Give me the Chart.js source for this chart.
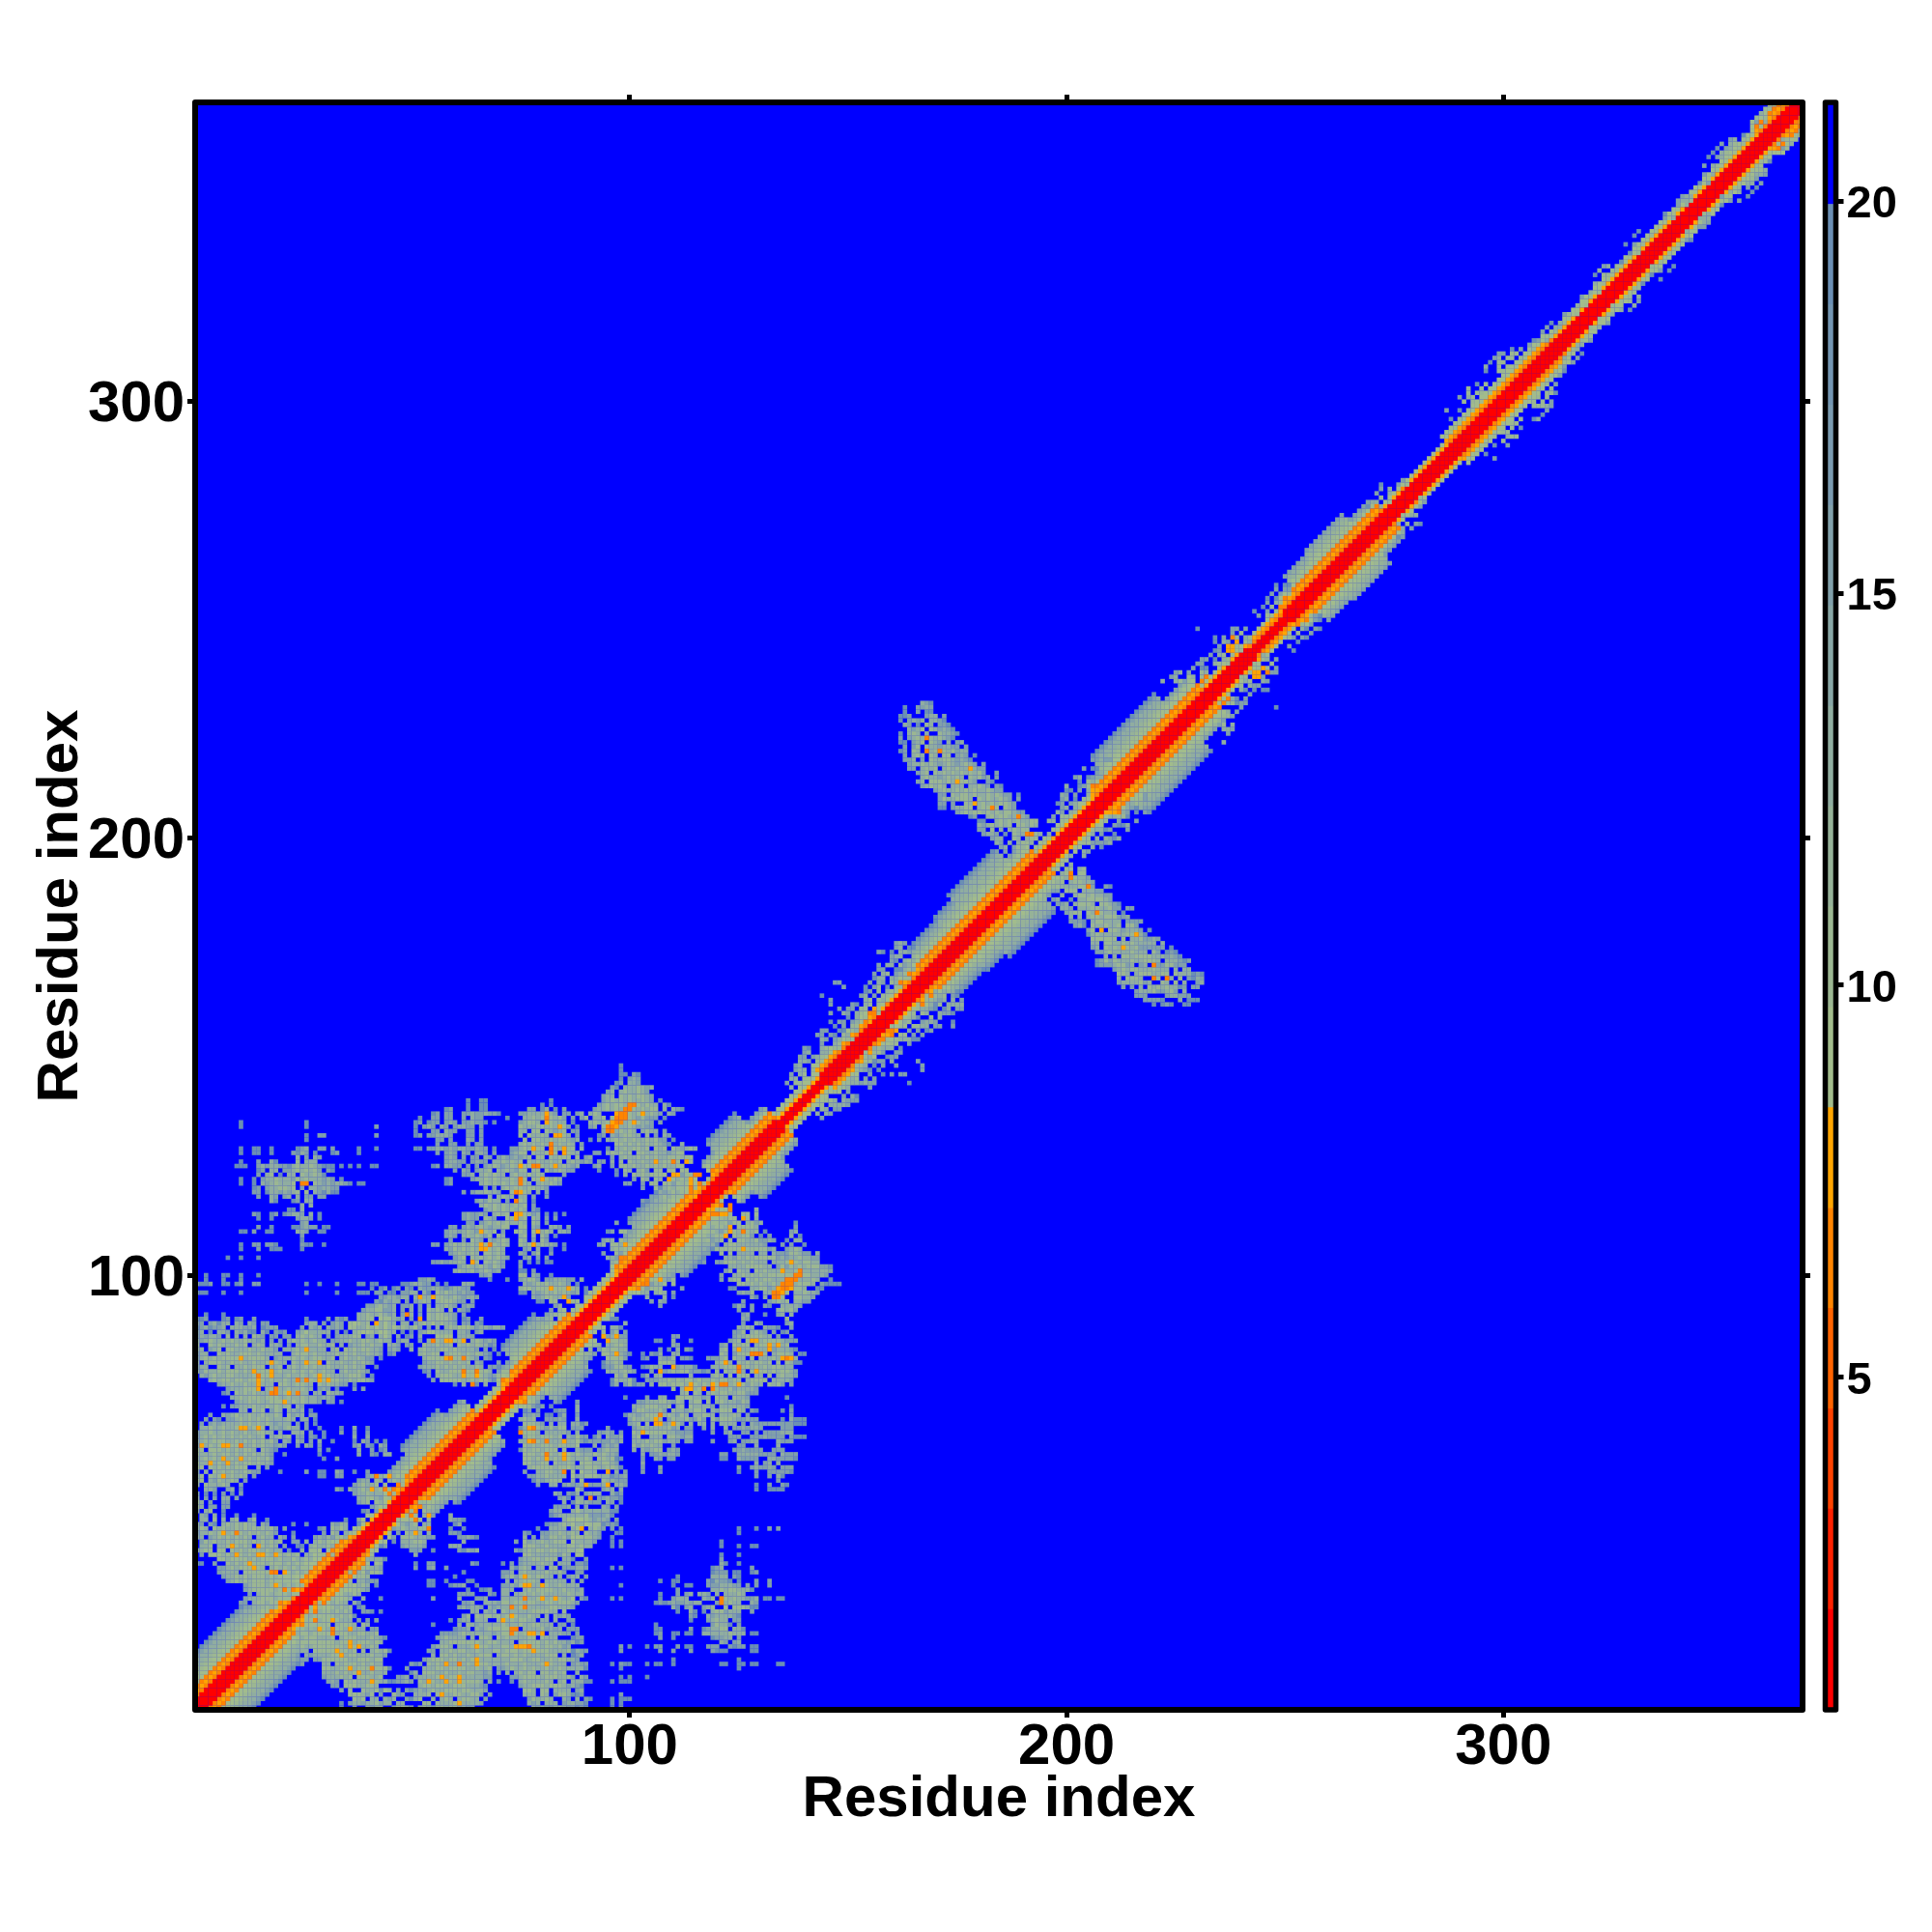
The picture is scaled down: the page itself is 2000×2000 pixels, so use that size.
<!DOCTYPE html>
<html>
<head>
<meta charset="utf-8">
<title>Residue distance map</title>
<script src="https://cdn.jsdelivr.net/npm/chart.js@4/dist/chart.umd.js"></script>
<style>
html, body { margin: 0; background: #fff; }
canvas { position: absolute; left: 0; top: 0; }
</style>
</head>
<body>
<canvas id="mapChart" width="2000" height="2000"></canvas>
<canvas id="keyChart" width="2000" height="2000"></canvas>
<script>
// Axis ticks
const residueTicks = [100, 200, 300];
const keyTicks = [5, 10, 15, 20];
const residueMin = 0.5;
const residueMax = 368.5;

// Colour key: distance band edges and the colour of each band
const bandEdges = [0.76, 2.04, 3.32, 4.6, 5.88, 7.16, 8.44, 9.72, 11, 12.28, 13.56, 14.84, 16.12, 17.4, 18.68, 19.96, 21.26];
const bandColors = ['#ff0000', '#ff2100', '#ff4200', '#ff6300', '#ff8400', '#ffa500',
    '#a2bc8c', '#9cb792', '#96b298', '#90ada0', '#88a6a5', '#81a0aa', '#7a9aaf', '#7395b1', '#6b8fb4', '#0000ff'];

// Letter used for a cell in the tables below and the distance it stands for
const cellCodes = ['R', 'a', 'r', 'b', 'd', 'o', 'g', 'c', 'n', 'e', 'm', 'h', 't', 'i', 's'];
const cellDistances = [1.4, 2.7, 4, 5.2, 6.5, 7.8, 9.1, 10.4, 11.6, 12.9, 12.9, 15.5, 15.5, 18, 19.3];

// Stretches along the diagonal: profile[k] is the distance code at |x - y| = k
const stretchEnd = [18, 20, 22, 25, 38, 46, 49, 53, 62, 66, 72, 76, 84, 88, 98, 101, 105, 113, 118, 120, 123, 130, 134, 144, 157, 163, 168, 175, 179, 190, 194, 207, 211, 226, 232, 242, 250, 254, 259, 268, 273, 288, 312, 359, 368];
const stretchProfile = [
    'RRRdodggcnemts', 'RRRdodggnmt', 'RRRdodgmt', 'RRRdogggnmt', 'RRRdodgggn', 'RRRogg',
    'RRRdodgt', 'RRRdodggnmt', 'RRRdodggcnemts', 'RRRdodggnmt', 'RRRogg',
    'RRRdodgmt', 'RRRdodggcnemts', 'RRRdodggnmt', 'RRRogg',
    'RRRdodgt', 'RRRdodggnmt', 'RRRdodggcnemts', 'RRRdodggcnmt', 'RRRdg',
    'RRRdodggnt', 'RRRdodggcnemts', 'RRRdodgmt', 'RRogg', 'RRRdogg', 'RRRogg',
    'RRRdodgmt', 'RRRdodggnmts', 'RRRdodggcnmts', 'RRRdodggcnnemts', 'RRRdodggnt', 'RRRogg',
    'RRRdodgmt', 'RRRdodggcnemts', 'RRRdodggnt', 'RRRog', 'RRdog',
    'RRRdodgt', 'RRRdodggnmt', 'RRRdodggcnmt', 'RRRdodgmt', 'RRRog', 'RRRdogg', 'RRRogg', 'RRRdodgg'
];

// Off-diagonal cells, x < y only (the map is symmetric): 'y x:codes x:codes ...', a dot is a blue cell
const farRowsA = [
    '135 11:s 26:s', '134 11:s 26:s 42:t', '132 26:s 29:tt 42:t', '131 26:s',
    '129 11:s 14:ss 18:s 24:stm 29:tt 32:t 38:s 42:s', '128 11:s 14:ss 18:s 23:tsmt.s 32:st 38:s',
    '127 24:m.t.mt', '126 11:s 15:t 18:ms 23:.c.mmm', '125 10:sss 15:tmtmmttsmcmmcmtsss 34:s 36:s 38:s 41:ss',
    '124 15:st.mm.ttmcmcmct.ts', '123 15:t.mc.s.mm.cmmcms', '122 11:s 14:s.tmmcmmmtcmcmmmtmt.s',
    '121 11:s 14:s.mtmcmmmc.dd.cmtmtmmts.ss 38:s', '120 14:st.tmmccmc.t.mmtmmtt', '119 14:tt.smmtmtmc.c.mtsmss',
    '118 15:t..mt.tm.m.tt.tt', '117 18:ms 23:st.mm', '116 25:m.m', '115 22:ss.m', '114 14:ts..st.stmmt.m.s', '113 15:s..s 24:tmmt.s',
    '112 25:tm', '111 15:t..s 23:sstmtt.ss', '110 11:ss.t..ss 24:mmt..ss', '109 25:t', '108 25:s',
    '107 11:s 14:tt.tts 25:tss..s', '106 11:s 15:t..sss 25:s', '104 8:s..s...s', '100 3:s...ss..s...s 65:mttm',
    '99 3:s...s...s 52:ttmt 63:s 68:s 72:s', '98 1:tsst..ss.st..tt 26:s..s...s 38:ss.ss 48:sstmmtt.s.s..tmmt',
    '97 41:s.st.st.ts.mttmmtstmmtt', '96 1:sss...s...s 26:s 33:s 38:sss.tt.ss.ttmm.ms.cmcmmtmtt',
    '95 43:ttmmtmm.mc 52:o 53:mm 55:o 56:ccmmcmtmmt', '94 42:tsmtmm.t.tm 53:cm.mcccmtt.t', '93 40:ttmcmtm.tt 50:m.t 54:m.mmcmt.tmt',
    '92 39:tmmccttm.t 49:.m 52:t.cmcmcccmts', '91 3:s...s 38:mmcmmcmtm. 48:t 49:d 50:m.t.cmccmmt.t',
    '90 1:sst...st.st..t 26:s 31:t.tst 38:mmcc.gccmtm.t.o.cm 55:.cccmt.st 66:t',
    '89 1:tt.tmsmm.mt.mt.tt 26:tmm.t.tmt.cgcmc 42:o 43:mgmm.mm.t 51:.mcmgmcmmt.tt.ts',
    '88 1:stmsttm.mmmttm.st 18:tt 25:tmmtm.mtmt.gcmmgmgmgmgmcmmgt.t.m.mcmgggmtmmtmmt',
    '87 1:tm.s.mmt.mtmss.ms.t 20:st 24:tmgmmmmm.t.s.mcggcmggmm.s.s.tmggmmmm.mmt.tm',
    '86 1:tmtmmt.cmmcmmcmt.tt 21:tt.mcmcmm.t.tmmmcc.tmcmgm.mt 49:st.mt.mgcgg.mmmt',
    '85 1:mtmcmmcmcmmcmmtm.t.t.mcmcmmcmm.ttmmcmmccmmcmm.tmm 52:t.m.cm.mccm.mcmtmt 55:d 58:oo 62:o',
    '84 1:cm.cmcmmmcmcmmcm.mmt.t.mccmmcmmcmm.tmmcmcmmcmmt.tm.m 50:t.ccmmcmmcmcmcmcmmst',
    '83 1:mm.tmcmccmmmcmmcmmt.mmmcmcmmmm.mcmcmcmccmmt.tmt 50:m.mcmmmccmcmmmmt.t.s 26:o',
    '82 1:tmm.mcmcmmcccmcmmmmmt.mcccmcmmmmcmcmcmmcmmt.st 52:mcmcc.mcccmcmcmts.s',
    '81 1:tmcmcmcccccmccccmmtmmmcmcmmccmmcmmcmmcmtt.s 53:mcccc.ccc.cmt.ts 11:o 58:o 59:d 62:d',
    '80 1:m.mcccmmcmcmmcmmc.cmmmcmm.ccc.cmmcmmcmcmt 53:tmmccmcmcmcmmt.t.t 18:o 26:o 29:o',
    '79 1:tmm.mcmcmmmcmcccmmmccmcmmcmcmmcmmmcmcmmm.s 52:tmmmcmcmcmcmmcm.tts',
    '78 1:mtcmmcmcccmcmmccccmcmmcmcmcmmcmmcmcmmcmt 53:st.cmmcccccc.ccmt.cc 14:o 18:o 62:d 65:d',
    '77 2:mtmcmmccmmmmccccmmmmcmmcmmccccmmmmccct.s 54:t.mcccmmcccccmt.c.c 15:d 18:o 29:o 62:o 65:o',
    '76 4:mcmccmccmccocmcmmcmmmmdcmccoccmmcmccmt 55:t.cccccmmcmccts 15:o 24:d 29:o',
    '75 6:tmmcmmcmmcmmm.ccmmccmm.cmcmmtt.s 60:s.m.ds.m 15:o'
];
const farRowsB = [
    '140 63:s 66:ss', '139 63:s 66:ss', '138 58:st 63:s 66:ss', '137 55:st 58:tt 62:ttmttmtts',
    '136 52:s 55:tt.tt 62:t.mtt 72:s', '135 51:st 54:stt.tmt.ttmtts.s', '134 51:s.tmt.mt.tmmtt.t', '133 51:s 54:.tt.mtt 63:tt.t',
    '132 51:st.ttmmmt 63:tt.t', '131 56:tt.t 63:mt.t', '130 56:t..tt 63:t.tt', '129 51:ss.ttmmtmtmmttmtt.s 73:tts',
    '128 56:t.tmt.mt.mmt.t 73:tmm', '127 58:tmt.t.tt.mt.tmttmt', '126 58:tmmtt.tmtt.mmcmcmt', '125 55:st.mmtt.t.t.tmcmtmcmt',
    '124 60:t.mt.tmmcmmmcmt', '123 62:ttm.mcmcmmcmcmm', '122 58:st 64:tmmcmcmmmcmmt', '121 58:st 66:mcmcmcmcmm', '120 67:tmt.mcmccm',
    '119 62:t.tmmcmmt..c 74:d', '118 68:mcmcmm.c', '117 65:tmtcmm.t.c 74:d', '116 66:mcmcmcmmcm', '115 67:tmcmcmcmt',
    '114 62:tmttmt.mcmc 74:o', '113 62:tmtt.cmt..cc 74:o', '112 63:tt.tmcmcmcmmt', '111 59:tt.tmtmcmtmmcc',
    '110 58:tmmtmcmtocmcmt..cm', '109 58:tmt.mcmcmtcmcm', '108 59:t..tmcmt.mtmcm', '107 55:tt.tmcmcmcmocdcmcm', '106 58:mtcmcmcmoocmcm',
    '105 59:tmcmmcm.ccmcm', '104 60:tmc.cmcmcmcmt', '103 55:ttmtmmcm.ocmcmcmt', '102 61:tmcmmcmtcmt', '101 60:mcmmctmcmtm'
];
const farRowsC = [
    '74 8:tmmmcccc.mccmmcmmcmm.tmt.s 37:t.t 15:o 19:d', '73 7:st.cmcmcmmmcmmccmcmm.mm.cmmt 18:dd 22:o 24:d',
    '72 9:mmcmcccmcccmmcmmcmmmtmmt', '71 10:tmmcmcmmcccomcmcmmmt.tt.s', '70 7:s.ttmmmcmmcmcmmc.mt', '69 11:mmccmcmtcmmmmtm.s',
    '68 4:t..mtmcmmcmmcmmcm.ctmm.tt', '67 3:t.ts.ttmcmcmcmcmmmmcm.mm.s', '66 2:t.tmtmmmmcmcmcmcmtmmm.t.t.s',
    '65 1:.mmcmmcmmccmmcmc.mmtmcmm.t..s 11:oo 15:o 34:s 37:m 40:s', '64 1:tmmcmmcmcmmcmmccmm.m..mmm.t..s 34:t 37:t 40:t',
    '63 1:tmcmcmcmcmcmcmmccmmcmc.tt.ts.s 37:m 40:m', '62 1:mmcmcccmmcmcmcmcmct.mt.mt.t.m..s 37:s.mt.s.s',
    '61 1:tmmcmcmccccmmcmcmmtmt..t.mt.t 37:tm.ts.mt 2:o 7:o 8:o 11:d', '60 1:cc.cccmcmcmccm.cmts 29:t.s 38:m..t.st',
    '59 1:cmmmcmccmcmcmcmcmt..s 29:s 38:m..ts.mm', '58 1:mmcmcmcmcmcmcmcmct 30:s 33:t 7:o 11:o', '57 1:cmmomcmomcmccmcmmt',
    '56 1:cc.cmcmcmcccc.m.t', '55 1:t.m.cmcmcmmcmtt 20:s 26:t 29:ss 33:mt 37:s 40:t', '54 1:mc.cmcomcmcm.t 29:ss 33:tt 40:tm 42:d 43:mc 45:o 46:m',
    '53 1:cc.mtcmmcm.t 38:tmm.cm.mcmc', '52 1:m.cmmmcm..t 36:.tmcmmcmc.m.c', '51 2:cmmtt.tm.s 33:ts.mtmcmomcdc',
    '50 1:t.s.s.t.s.t 37:tmmcmmm.dc', '49 1:m.t.t.mm.t 38:mmccmt.c', '48 1:cm.t..tt 38:tmc.cm', '47 1:cm.tt.tt 41:tm.c', '46 1:t.mc..s 39:st.t',
    '45 2:mt.m.s..s...s', '44 2:mm.c.m.mc..tc..s 35:s..t', '43 1:mt.ts.mcmcmcmm.mt 23:s..s 32:mt.m..s', '42 1:mcmmcmcmmcmcmcmcmct.t 29:st.cm.mt',
    '41 1:tmmcmcomcdcmcmcmcmt...s 30:t.cmcmc', '40 1:mm.tmcmcmcmcmcmcmm.mt.t 28:tmt.tc.m', '39 2:tcmcmmcmcccmcmcmcmc..tt.m.mcmc',
    '38 2:mmc.mmcocmcm.ocmcm.t..ss.mcmmcm', '37 1:tmcc.cc.cmcmcccmcmmm.s.tm.cc', '36 2:t.cccmcmocmcmoocmocmcmc.mm.cc.c',
    '35 6:ccmccccmcmcccmcmmcmmcm', '34 1:ss..t.ccmcmcocccmcccmcmc', '33 6:ttmcmcccocmcmcmcmcmcc', '32 6:tmmmmcccccccddcocmcmc', '31 7:tmmcmcmcccmcmcccc',
    '30 8:tmcmcmcccmcccccc', '29 12:tmcccmcocmcmcc', '28 12:tmcccccmcdcd', '27 13:tmmccm.ccmcc', '26 12:tmmmcccmccc', '25 11:tt.mccmcc', '24 13:tmm.cmc'
];
const farRowsD = [
    '148 98:s', '147 98:s', '146 98:ss.ts', '145 98:s.tmt', '144 97:st.mmtm', '143 96:ts.mmmcmtm', '142 95:tm.mcmmcmt',
    '141 94:tmm.cmcmccmt', '140 82:s 94:tmcmcmcmmcmt.s', '139 80:s.s 93:tmcmccmcm 100:dd 102:cmcmm.ms',
    '138 77:tt.sm.s.t 92:tmmcmcmc 99:dd 101:cmcmcc.m.mts', '137 75:ttmmmmomt.tt.tm.mcm 97:odd 100:cmcomcmt.mt',
    '136 75:.mmcmcdcmct 87:t.tc.mmc.cdddcmtcttt.s', '135 75:tmccmdocmmm.s 91:mcmmcmmcmcocmmt.t 96:odd', '134 75:cmmmccmcmoct 88:s 91:tm.cmcmmmcmtmtt 95:ddo',
    '133 75:mm.cc.cmtmc.tt 93:tmmcmcmcmcmcmm.t 95:dd', '132 75:c.cmmcm.oocm.t 93:st.mtmccmm.cmt.mt', '131 76:cmccmmcmccmtm 91:s.t.mmcmcmcmmcmctt.s',
    '130 75:mcmcmcmdmcmcm.t 95:t.ccmcmcmcmcmts..m', '129 75:mcmocc.dcmocc.m 95:s.mmcmccmcmcmcmcmtmcm', '128 75:cc.cmmcdcmocmm 92:tt.mcmcmcmccmmcmmtmcc',
    '127 76:mc.cc.cmccc.c 90:tm 96:t.mcmmcmcmcmmcccmcc', '126 75:c.cmcmmcmccmcmtm 90:mt.tt.m.c.cmmcmmomccdc.oc', '125 75:occddcmcomcmtm 92:tm..t.ccmcmmcmcmcmmcc',
    '124 75:cc.cc.ctmcmtt 93:s...s.cmmmct.cc.cc.cc', '123 76:mcmcm.m..t 97:s.m.cmcmcccc.oo.c.dd', '122 75:dc.ccocmcm 101:t.cm.cm.ocmc.o',
    '121 75:dcmcmcmcmt 99:tt..t.cc.cc.c.co', '120 75:cmccmmt 103:t..c.mc.cc.dc', '119 75:ocm.m.t 107:mt.cmc.do', '118 75:mm.t..t 105:tt.cm.cc.oo',
    '117 75:cm.s..s 103:t', '116 75:mc.t', '115 75:cm.ts', '114 75:ocmtm.s.s.s', '113 75:mc.cm.t.t', '112 75:cm.cm.t 97:t',
    '111 75:cc.mtm.mmt.t', '110 75:cm.comcm.mmt 95:st.cc', '109 75:mc.m.ct.s', '108 75:cm.t.ct 94:tmm.cm', '107 75:cmcomcmmt.s 93:tm.cc.o',
    '106 76:tmcm..s..s 96:mc', '105 75:mt.tc..t..t 94:t..c', '104 76:tm.t.t 95:mm.dd', '103 75:t.s.s.ss 96:mc', '102 75:t', '101 75:ss.t',
    '100 75:cc.mt..s', '99 75:tmcct.ttmmmtt.m', '98 76:mtmcmcmmcmt.s', '97 75:mccmcccocccocm.s', '96 75:ss.mtmcmcmcmtm.s', '95 78:mtmccmmot', '94 79:ss.cc..occ'
];
const armRows = [
    '231 167:mts', '230 163:s 166:ttmt', '229 163:s 165:.t.ss', '228 162:sst 167:.tmmst', '227 162:s.tmtm.mmts', '226 163:mt.s.cm.tts',
    '225 164:mtmc.cmtmts', '224 162:s.mcm.mc.cmmts', '223 162:t.tmcmdcmcmts', '222 162:ss.tmc.cmt.mmtm', '221 163:t.tc.cmmtmmtt.t',
    '220 162:st.cm.dmcdcmctmm', '219 163:t.mcmmcm.cc.tmt.s', '218 163:ttm.t.cmmccmtmts 207:t.tt', '217 164:tmmcmcmtmcmtmcmt.t', '216 164:tt.mcmcmmcmcmmomtt 204:t.ss',
    '215 166:tmc.cmcmcmcmcmct.tt', '214 167:mcmmtmcmcm.cmctm.t 202:tm.st.m', '213 166:tm.cccmcmoccmt.tts 203:s.cm', '212 167:tmcmcmcmmmcmmcmt.ts 200:m..s.cd',
    '211 170:tmcmmcmcmcmmcmtt 200:ss.t.mo', '210 171:ttmcmccmcmmcmcmtt.s 199:mt.t..m', '209 171:tcmmcccmmcmcmmcmt.t 199:tm.s.c', '208 171:tt.t.mcmomcmcmccmt 198:st.tm',
    '207 171:ss.tmmcccmccdcmcmt 199:tm.mc', '206 175:tmcmccmcmcmccmtt 198:mt.mc', '205 178:st.cmcmccmmdmt 197:t.cc', '204 180:ss.cmcmcmcmmcc 196:mm.c',
    '203 180:mtmcmcmcmccmcm', '202 180:tt.c.mcmcmcc', '201 181:tmmt.s.cmmddcm 196:mt', '200 183:tmm.tcmcmcc', '199 184:mt.m.mccm', '198 185:tm.tc', '197 184:t.t'
];
const fringeRows = [
    '176 161:tmt', '175 161:tm.ss', '174 157:ts.s.mmt', '173 160:tmm', '172 160:ts.mc', '171 157:t.mm.c', '170 157:tt..ss.cm', '169 156:t.mc.t.c',
    '168 156:smm.m..cc', '167 147:tt 155:t.mt.cm', '166 149:t 154:s.tc.s.cc', '165 154:st.c.mc', '164 144:s 153:tm.t.cc', '163 146:t 154:mc.cm',
    '162 146:t 151:ts.mc.c.d', '161 148:t.tt.cc.o', '160 146:t..mt.mc.ddc', '159 150:s.m.c', '158 146:s.tt.tm.do', '157 147:s.t.cc',
    '156 144:tt..ss.cm', '155 143:tt.ts.cm', '154 144:mt.tm.cc', '153 144:t..mc', '152 140:ts..mc.cc', '151 140:tm..mm', '150 139:tt.tmc', '149 139:mmt.c',
    '148 138:tm', '147 138:tmm.c', '146 137:t.mc', '145 137:mm.c', '144 136:t.cc', '143 137:m',
    '248 230:s 238:tt.t', '247 238:t.c', '246 234:s.t.dc.mc', '245 234:s.mt.o.cm', '244 235:t.ooc', '243 234:st.oo.c', '242 233:t.mc.c', '241 231:tt.s.mc.c',
    '240 230:tt..mc.c', '239 229:t.ss', '238 225:tm.t..cm..o', '237 224:tm..cm.cd', '236 222:m..mc.c..d',
    '258 248:s.ss', '257 248:t..t', '256 247:t.t.c', '255 246:s.s', '254 246:t.mc.d', '253 245:s.c.dd', '252 243:s..t.c', '251 244:t.c',
    '282 277:t', '281 272:s...t.c', '280 272:t.m..dc', '279 271:t..m...c', '278 272:c...t', '277 269:t.m..c', '276 269:s..m.c',
    '367 360:cc', '366 359:m', '365 358:c.c', '364 358:t.m', '363 359:c', '361 355:s', '360 352:tm.c', '359 350:t.mc.c', '358 349:s.tm.c', '357 348:s.mc', '356 347:s.tm',
    '354 346:t.mc', '352 346:t.m', '350 345:s.t', '347 341:tmm', '346 340:tmmc', '345 340:t.mc', '343 337:s', '342 337:t.m', '339 331:s', '338 330:s...c', '336 328:s.t.c',
    '334 329:s.c', '332 327:s..c', '331 323:tm.cc', '330 322:m..cc', '329 321:s.cc', '327 321:m.c', '325 320:m.c', '324 318:t.c', '322 317:m.c', '320 314:tc.c',
    '318 311:s.mc', '317 310:t.mm', '316 309:t..c', '314 307:st.m', '313 306:t', '312 302:s.t..c', '311 299:tt.cc', '310 298:tm.cc.c', '309 297:s.cc', '308 296:m..c.c',
    '307 296:s..cc', '304 294:s.c', '303 292:c..c', '302 292:c.cc', '301 290:t.mc', '300 291:c.c', '298 287:t..s.c', '296 288:s.c'
];

// Blue cells inside the patches: [y, x]
const blueCells = [
    [87, 5], [86, 7], [86, 9], [86, 11], [86, 13], [84, 2], [82, 5], [83, 7], [84, 13], [84, 17], [82, 21], [83, 20], [88, 26], [84, 33], [83, 34], [81, 33],
    [86, 42], [84, 44], [84, 52], [86, 48], [87, 51], [86, 53], [86, 55], [92, 58], [92, 60], [93, 61], [84, 60], [80, 64], [80, 68], [78, 69], [79, 21], [79, 5],
    [79, 9], [79, 17], [81, 18], [80, 22], [78, 33], [79, 40], [124, 69], [123, 72], [120, 68], [118, 69], [117, 71], [110, 70], [109, 69], [108, 63], [103, 66],
    [100, 65], [99, 63], [98, 61], [69, 13], [69, 17], [69, 21], [63, 17], [56, 13], [52, 10], [55, 2], [55, 4], [51, 6], [51, 2], [48, 5], [44, 4], [44, 6], [42, 4],
    [40, 14], [34, 7], [32, 11], [33, 17], [32, 20], [27, 14], [37, 24], [37, 30], [41, 34], [42, 36], [44, 40], [46, 41], [52, 43], [52, 45], [52, 46],
    [132, 82], [128, 84], [126, 85], [123, 82], [121, 78], [117, 81], [131, 77], [133, 93], [130, 95], [144, 99], [144, 103], [133, 102], [132, 105], [133, 109],
    [128, 101], [129, 105], [126, 97], [129, 109], [124, 114], [124, 105], [124, 101], [134, 113], [135, 80], [111, 80], [109, 85], [106, 78], [105, 81], [105, 85],
    [103, 76], [101, 79], [101, 80], [94, 89], [92, 83], [90, 83],
    [202, 186], [200, 190], [200, 187], [201, 197], [203, 195], [204, 183], [205, 181], [207, 179], [212, 173], [212, 177], [213, 181], [216, 171], [215, 183],
    [219, 168], [222, 174], [228, 171], [228, 167], [226, 167], [224, 169], [207, 185], [207, 191], [203, 188], [208, 176], [210, 173], [209, 179]
];

// Collect all cells into one lookup, the table rows win over the diagonal profile
const cells = new Map();
function setCell(x, y, code) {
    cells.set(x + ',' + y, code);
    cells.set(y + ',' + x, code);
}

for (let x = 1; x <= 368; x++) {
    for (let k = 0; x + k <= 368; k++) {
        const mid = x + k / 2;
        const stretch = stretchEnd.findIndex(end => mid <= end + 0.5);
        const code = stretchProfile[stretch][k];
        if (code) setCell(x, x + k, code);
    }
}

[farRowsA, farRowsB, farRowsC, farRowsD, armRows, fringeRows].forEach(table => {
    table.forEach(row => {
        const parts = row.split(' ');
        const y = parseInt(parts[0]);
        parts.slice(1).forEach(part => {
            const [start, codes] = part.split(':');
            for (let i = 0; i < codes.length; i++) {
                // keep the red core of the diagonal whatever the tables say
                if (codes[i] !== '.' && parseInt(start) + i < y - 2) setCell(parseInt(start) + i, y, codes[i]);
            }
        });
    });
});

blueCells.forEach(([y, x]) => {
    cells.delete(x + ',' + y);
    cells.delete(y + ',' + x);
});

// One scatter dataset per colour band, red first so that it is drawn on top
function bandIndex(distance) {
    return bandEdges.findIndex((edge, i) => distance >= edge && distance < bandEdges[i + 1]);
}
const cellPoints = cellCodes.map(() => []);
cells.forEach((code, key) => {
    const [x, y] = key.split(',').map(Number);
    const distance = cellDistances[cellCodes.indexOf(code)];
    cellPoints[bandIndex(distance)].push({ x: x, y: y });
});

const boldFont = size => ({ family: "'Liberation Sans', Arial, sans-serif", weight: 'bold', size: size, lineHeight: 1 });

// Blue background (the farthest band) and the heavy frame
const frameBox = {
    id: 'frameBox',
    beforeDatasetsDraw(chart, args, opts) {
        if (!opts.fill) return;
        const a = chart.chartArea;
        chart.ctx.fillStyle = opts.fill;
        chart.ctx.fillRect(a.left, a.top, a.width, a.height);
    },
    afterDraw(chart, args, opts) {
        const a = chart.chartArea;
        const ctx = chart.ctx;
        ctx.save();
        ctx.lineJoin = 'round';
        ctx.lineWidth = opts.lineWidth;
        ctx.strokeStyle = '#000';
        ctx.strokeRect(a.left, a.top, a.width, a.height);
        ctx.restore();
    }
};

function residueAxis(axisName, position, size, showLabels, title) {
    return {
        type: 'linear',
        axis: axisName,
        position: position,
        min: residueMin,
        max: residueMax,
        afterBuildTicks: scale => { scale.ticks = residueTicks.map(v => ({ value: v })); },
        afterFit: scale => {
            if (axisName === 'x') scale.height = size; else scale.width = size;
        },
        grid: { drawOnChartArea: false, color: '#000', tickColor: '#000', tickLength: 8, tickWidth: 5 },
        border: { display: false },
        ticks: {
            display: showLabels,
            autoSkip: false,
            maxRotation: 0,
            padding: axisName === 'x' ? 1 : 3,
            labelOffset: axisName === 'x' ? 0 : 4,
            color: '#000',
            font: boldFont(60)
        },
        title: title
    };
}

new Chart(document.getElementById('mapChart'), {
    type: 'scatter',
    data: {
        datasets: cellPoints.map((points, i) => ({
            data: points,
            backgroundColor: bandColors[i],
            pointStyle: 'rect',
            pointRadius: 3.3,
            pointBorderWidth: 0
        }))
    },
    options: {
        responsive: false,
        animation: false,
        events: [],
        layout: { padding: 0 },
        plugins: {
            legend: { display: false },
            tooltip: { enabled: false },
            frameBox: { fill: bandColors[15], lineWidth: 6 }
        },
        scales: {
            x: residueAxis('x', 'bottom', 230, true, {
                display: true, text: 'Residue index', color: '#000', font: boldFont(60), padding: { top: 0, bottom: 107 }
            }),
            y: residueAxis('y', 'left', 202, true, {
                display: true, text: 'Residue index', color: '#000', font: boldFont(60), padding: { top: 33, bottom: 0 }
            }),
            xTop: residueAxis('x', 'top', 106, false, { display: false }),
            yRight: residueAxis('y', 'right', 134, false, { display: false })
        }
    },
    plugins: [frameBox]
});

// Colour key, drawn as floating bars on its own value axis
new Chart(document.getElementById('keyChart'), {
    type: 'bar',
    data: {
        labels: ['key'],
        datasets: bandColors.map((color, i) => ({
            data: [[bandEdges[i], bandEdges[i + 1]]],
            backgroundColor: color,
            barPercentage: 1,
            categoryPercentage: 1,
            grouped: false
        }))
    },
    options: {
        responsive: false,
        animation: false,
        events: [],
        layout: { padding: { left: 1889.5, top: 106, bottom: 230 } },
        plugins: {
            legend: { display: false },
            tooltip: { enabled: false },
            frameBox: { lineWidth: 5.5 }
        },
        scales: {
            x: { display: false },
            y: {
                position: 'right',
                min: bandEdges[0],
                max: bandEdges[16],
                afterBuildTicks: scale => { scale.ticks = keyTicks.map(v => ({ value: v })); },
                afterFit: scale => { scale.width = 99.5; },
                grid: { drawOnChartArea: false, color: '#000', tickColor: '#000', tickLength: 8, tickWidth: 5 },
                border: { display: false },
                ticks: { autoSkip: false, padding: 3, labelOffset: 4, color: '#000', font: boldFont(47) }
            }
        }
    },
    plugins: [frameBox]
});
</script>
</body>
</html>
